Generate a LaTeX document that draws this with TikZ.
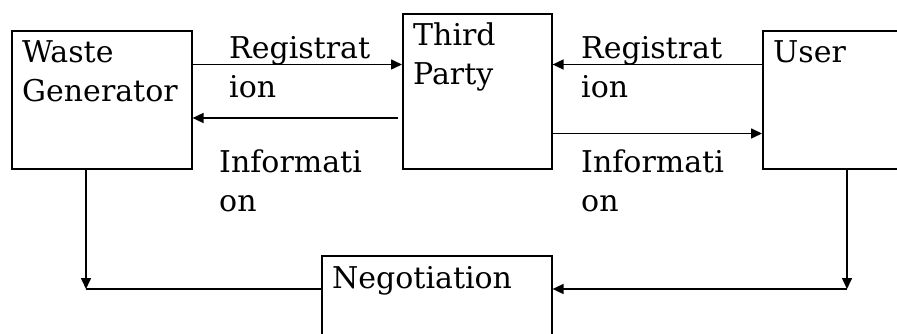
\documentclass[tikz,border=0pt]{standalone}
\usepackage{fontspec}
\setmainfont{DejaVu Serif}
\usetikzlibrary{arrows.meta,calc}
\begin{document}
\begin{tikzpicture}[x=1pt,y=-1pt,
  box/.style={draw,line width=1.6pt,rectangle,inner sep=0pt,anchor=north west},
  txt/.style={anchor=base west,inner sep=0pt,align=left,font=\fontsize{30}{39}\selectfont},
  link/.style={line width=1.6pt},
  arr/.style={link,-{Triangle[length=11pt,width=10pt]}}]
\useasboundingbox (0,0) rectangle (897,334);
\clip (0,0) rectangle (897,334);
\fill[white] (0,0) rectangle (897,334);
% boxes
\node[box,minimum width=180pt,minimum height=138pt] (wg) at (11,30) {};
\node[box,minimum width=149pt,minimum height=155pt] (tp) at (402,13) {};
\node[box,minimum width=200pt,minimum height=138pt] (user) at (762,30) {};
\node[box,minimum width=230pt,minimum height=110pt] (neg) at (321,255) {};
% box texts (anchor = baseline of the last line)
\node[txt] (wgt) at ($(wg.north west)+(11,72)$) {Waste\\Generator};
\node[txt] (tpt) at ($(tp.north west)+(11,72)$) {Third\\Party};
\node[txt] (usert) at ($(user.north west)+(11,33)$) {User};
\node[txt] (negt) at ($(neg.north west)+(11,33)$) {Negotiation};
% connectors
\coordinate (r1) at ($(wg.north east)+(0,34.5)$);
\draw[arr] (r1) -- (r1 -| tp.west);
\draw[arr] (r1 -| user.west) -- (r1 -| tp.east);
\coordinate (i1) at ($(tp.north west)+(-4,105)$);
\draw[arr] (i1) -- (i1 -| wg.east);
\coordinate (i2) at ($(tp.north east)+(0,120.5)$);
\draw[arr] (i2) -- (i2 -| user.west);
\coordinate (n1) at ($(neg.north west)+(0,34)$);
\coordinate (d1) at ($(wg.south west)+(75,0)$);
\draw[arr] (d1) -- (d1 |- n1);
\draw[link] (d1 |- n1) -- (n1);
\coordinate (d2) at ($(user.south west)+(85,0)$);
\draw[arr] (d2) -- (d2 |- n1);
\draw[arr] (d2 |- n1) -- (n1 -| neg.east);
% connector labels
\node[txt] (l1) at (229,98) {Registrat\\ion};
\node[txt] (l2) at (219,211) {Informati\\on};
\node[txt] (l3) at (581,98) {Registrat\\ion};
\node[txt] (l4) at (581,211) {Informati\\on};
\end{tikzpicture}
\end{document}
